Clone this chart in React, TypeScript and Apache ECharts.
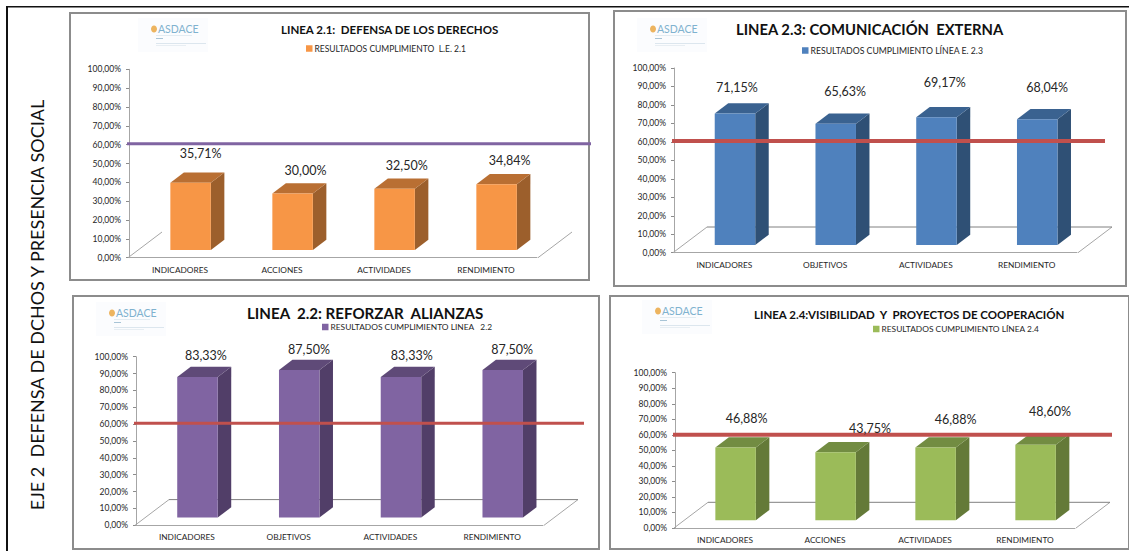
import React, { useEffect, useRef } from "react";
import * as echarts from "echarts";

const axisTicks = [0, 10, 20, 30, 40, 50, 60, 70, 80, 90, 100];
const targetValue = [60];

const categoriesA = ["INDICADORES", "ACCIONES", "ACTIVIDADES", "RENDIMIENTO"];
const categoriesB = ["INDICADORES", "OBJETIVOS", "ACTIVIDADES", "RENDIMIENTO"];
const categoriesC = ["INDICADORES", "OBJETIVOS", "ACTIVIDADES", "RENDIMIENTO"];
const categoriesD = ["INDICADORES", "ACCIONES", "ACTIVIDADES", "RENDIMIENTO"];

const valuesA = [35.71, 30.0, 32.5, 34.84];
const valuesB = [71.15, 65.63, 69.17, 68.04];
const valuesC = [83.33, 87.5, 83.33, 87.5];
const valuesD = [46.88, 43.75, 46.88, 48.6];

const titles = [
  "LINEA 2.1:  DEFENSA DE LOS DERECHOS",
  "LINEA 2.3: COMUNICACIÓN  EXTERNA",
  "LINEA  2.2: REFORZAR  ALIANZAS",
  "LINEA 2.4:VISIBILIDAD  Y  PROYECTOS DE COOPERACIÓN",
];
const legends = [
  "RESULTADOS CUMPLIMIENTO  L.E. 2.1",
  "RESULTADOS CUMPLIMIENTO LÍNEA E. 2.3",
  "RESULTADOS CUMPLIMIENTO LINEA   2.2",
  "RESULTADOS CUMPLIMIENTO LÍNEA 2.4",
];
const sideLabel = "EJE 2  DEFENSA DE DCHOS Y PRESENCIA SOCIAL";
const FONT = "Lato";

type Panel = {
  cats: string[]; vals: number[]; title: string; legend: string;
  frame: number[]; grid: number[]; front: string; side: string; top: string;
  lineColor: string; lineEnd: number; lineW: number; lineDy: number; floorBack: boolean;
  titleX: number; titleY: number; titleSize: number; legendX: number; legendY: number; legendSize: number;
  labelDx: number[]; labelY: number[]; logoX: number; logoY: number;
};

const panels: Panel[] = [
  {
    cats: categoriesA, vals: valuesA, title: titles[0], legend: legends[0],
    frame: [70, 13, 519, 267], grid: [129, 69.3, 408, 188.4],
    front: "#F79646", side: "#9C5F2C", top: "#B96F33",
    lineColor: "#8064A2", lineEnd: 591, lineW: 3, lineDy: -1, floorBack: false,
    titleX: 281, titleY: 23, titleSize: 11.5, legendX: 306, legendY: 44, legendSize: 8.5,
    labelDx: [20.7, 23.5, 22.8, 23.7], labelY: [153.3, 170, 165, 160], logoX: 148, logoY: 22,
  },
  {
    cats: categoriesB, vals: valuesB, title: titles[1], legend: legends[1],
    frame: [614, 11, 512, 275], grid: [674, 68, 403, 184.7],
    front: "#4F81BD", side: "#2F5075", top: "#3A6290",
    lineColor: "#C0504D", lineEnd: 1105, lineW: 4, lineDy: -1, floorBack: true,
    titleX: 736, titleY: 21, titleSize: 14.8, legendX: 802, legendY: 46, legendSize: 8.7,
    labelDx: [12.6, 20, 18.9, 20.5], labelY: [87, 91, 82, 87.3], logoX: 647, logoY: 22,
  },
  {
    cats: categoriesC, vals: valuesC, title: titles[2], legend: legends[2],
    frame: [73, 296, 526, 253], grid: [136, 356.7, 407, 168.6],
    front: "#8064A2", side: "#513E68", top: "#5F4A78",
    lineColor: "#C0504D", lineEnd: 584, lineW: 3, lineDy: -1, floorBack: true,
    titleX: 247, titleY: 305, titleSize: 15.1, legendX: 322, legendY: 323, legendSize: 8.4,
    labelDx: [19, 20.4, 21.4, 20], labelY: [355, 349, 355, 349], logoX: 106, logoY: 306,
  },
  {
    cats: categoriesD, vals: valuesD, title: titles[3], legend: legends[3],
    frame: [610, 296, 519, 253], grid: [675, 372.7, 400, 155.3],
    front: "#9BBB59", side: "#647A38", top: "#728C42",
    lineColor: "#C0504D", lineEnd: 1112, lineW: 4, lineDy: 0, floorBack: true,
    titleX: 754, titleY: 308, titleSize: 11.5, legendX: 873, legendY: 325, legendSize: 8.4,
    labelDx: [21.7, 45, 30.6, 25], labelY: [418.7, 428, 419, 411], logoX: 652, logoY: 304,
  },
];

const BAR_W = 40.5, DEPTH_X = 13.5, DEPTH_Y = 10.3, BASE_UP = 7.7, SHIFT = 10.6;

function bars3d(p: Panel) {
  return (params: any, api: any) => {
    const i = api.value(0);
    const v = api.value(1);
    const [cx, topY] = api.coord([i, v]);
    const [, zeroY] = api.coord([i, 0]);
    const l = cx + SHIFT - BAR_W / 2;
    const r = l + BAR_W;
    const t = topY - BASE_UP;
    const b = zeroY - BASE_UP;
    return {
      type: "group",
      children: [
        { type: "polygon", shape: { points: [[r, t], [r + DEPTH_X, t - DEPTH_Y], [r + DEPTH_X, b - DEPTH_Y], [r, b]] }, style: { fill: p.side } },
        { type: "polygon", shape: { points: [[l, t], [l + DEPTH_X, t - DEPTH_Y], [r + DEPTH_X, t - DEPTH_Y], [r, t]] }, style: { fill: p.top } },
        { type: "rect", shape: { x: l, y: t, width: BAR_W, height: b - t }, style: { fill: p.front } },
      ],
    };
  };
}

function valueLabels(p: Panel) {
  return (params: any, api: any) => {
    const i = api.value(0);
    const v = api.value(1);
    const [cx] = api.coord([i, v]);
    return {
      type: "text",
      style: {
        x: cx + p.labelDx[params.dataIndex],
        y: p.labelY[params.dataIndex],
        text: `${v.toFixed(2).replace(".", ",")}%`,
        fill: "#262626",
        font: `12.5px ${FONT}`,
        align: "center",
        verticalAlign: "middle",
      },
    };
  };
}

function floor(p: Panel) {
  return (params: any, api: any) => {
    const cs = params.coordSys;
    const [, y0] = api.coord([0, 0]);
    const x0 = cs.x - 1;
    const x1 = cs.x + cs.width + 1;
    const dx = 34, dy = 25.7;
    const lineStyle = { stroke: "#A6A6A6", lineWidth: 1, fill: "none" };
    const kids: any[] = [
      { type: "line", shape: { x1: x0, y1: y0, x2: x0 + dx, y2: y0 - dy }, style: lineStyle },
      { type: "line", shape: { x1, y1: y0, x2: x1 + dx, y2: y0 - dy }, style: lineStyle },
    ];
    if (p.floorBack) {
      kids.push({ type: "line", shape: { x1: x0 + dx, y1: y0 - dy, x2: x1 + dx, y2: y0 - dy }, style: { ...lineStyle, stroke: "#808080" } });
    }
    return { type: "group", children: kids };
  };
}

function target(p: Panel) {
  return (params: any, api: any) => {
    const [, y] = api.coord([0, api.value(0)]);
    return {
      type: "line",
      shape: { x1: params.coordSys.x - 2, y1: y + p.lineDy, x2: p.lineEnd, y2: y + p.lineDy },
      style: { stroke: p.lineColor, lineWidth: p.lineW },
    };
  };
}

function logo(x: number, y: number) {
  const blue = "#7FB2CF";
  return {
    type: "group", x, y, silent: true,
    children: [
      { type: "rect", shape: { x: -10, y: -4, width: 70, height: 34 }, style: { fill: "#FBFCFE" } },
      { type: "ellipse", shape: { cx: 6, cy: 7, rx: 3, ry: 3.5 }, style: { fill: "#EDB45F" } },
      { type: "text", style: { x: 10, y: 1, text: "ASDACE", fill: blue, font: `10.5px ${FONT}` } },
      { type: "rect", shape: { x: 8, y: 13, width: 36, height: 1 }, style: { fill: "#E3ECF2" } },
      { type: "rect", shape: { x: 8, y: 16, width: 7, height: 1 }, style: { fill: "#A8C4D6" } },
      { type: "rect", shape: { x: 8, y: 21, width: 50, height: 1 }, style: { fill: "#DCE6EE" } },
      { type: "rect", shape: { x: 8, y: 23, width: 30, height: 1 }, style: { fill: "#E8EEF3" } },
    ],
  };
}

function buildOption() {
  const pct = (v: number) => `${v.toFixed(2).replace(".", ",")}%`;
  const series: any[] = [];
  panels.forEach((p, k) => {
    series.push({ type: "custom", name: "floor" + k, xAxisIndex: k, yAxisIndex: k, renderItem: floor(p), data: [[0]], silent: true, clip: false, z: 1 });
    series.push({
      type: "custom", name: p.legend, xAxisIndex: k, yAxisIndex: k, renderItem: bars3d(p), clip: false, z: 2,
      encode: { x: 0, y: 1 }, itemStyle: { color: p.front },
      data: p.vals.map((v, i) => [i, v]),
    });
    series.push({ type: "custom", name: "meta" + k, xAxisIndex: k, yAxisIndex: k, renderItem: target(p), data: targetValue.map((v) => [v]), clip: false, z: 3, silent: true });
    series.push({
      type: "custom", name: "labels" + k, xAxisIndex: k, yAxisIndex: k, renderItem: valueLabels(p), clip: false, z: 4, silent: true,
      data: p.vals.map((v, i) => [i, v]),
    });
  });
  const frames = panels.map((p) => ({
    type: "rect", silent: true, z: -1,
    shape: { x: p.frame[0], y: p.frame[1], width: p.frame[2], height: p.frame[3] },
    style: { fill: "#FFFFFF", stroke: "#8C8C8C", lineWidth: 2 },
  }));
  return {
    animation: false,
    backgroundColor: "#FFFFFF",
    title: panels.map((p) => ({
      text: p.title, left: p.titleX, top: p.titleY, padding: 0,
      textStyle: { fontFamily: FONT, fontWeight: "bold", fontSize: p.titleSize, color: "#111111" },
    })),
    legend: panels.map((p) => ({
      data: [p.legend], left: p.legendX, top: p.legendY, padding: 0, itemWidth: 6.5, itemHeight: 6.5, itemGap: 2, selectedMode: false,
      icon: "rect",
      textStyle: { fontFamily: FONT, fontSize: p.legendSize, color: "#262626", padding: [0, 0, 0, -3] },
    })),
    grid: panels.map((p) => ({ left: p.grid[0], top: p.grid[1], width: p.grid[2], height: p.grid[3] })),
    xAxis: panels.map((p, k) => ({
      type: "category", gridIndex: k, data: p.cats,
      axisLine: { lineStyle: { color: "#A6A6A6", width: 1 } }, axisTick: { show: false },
      axisLabel: { fontFamily: FONT, fontSize: 8.3, color: "#262626", margin: 8, interval: 0 },
    })),
    yAxis: panels.map((p, k) => ({
      type: "value", gridIndex: k, min: axisTicks[0], max: axisTicks[axisTicks.length - 1], interval: 10,
      axisLine: { show: true, lineStyle: { color: "#A6A6A6", width: 1 } },
      axisTick: { show: true, length: 3, lineStyle: { color: "#8C8C8C" } },
      splitLine: { show: false },
      axisLabel: { fontFamily: FONT, fontSize: 8.5, color: "#262626", margin: 8, formatter: pct },
    })),
    series,
    graphic: [
      ...frames,
      ...panels.map((p) => logo(p.logoX, p.logoY)),
      { type: "rect", silent: true, shape: { x: 6, y: 6, width: 1123, height: 1.5 }, style: { fill: "#111111" } },
      { type: "rect", silent: true, shape: { x: 6, y: 6, width: 2, height: 545 }, style: { fill: "#111111" } },
      {
        type: "text", silent: true, x: 37, y: 305, rotation: Math.PI / 2,
        style: { text: sideLabel, fill: "#111111", font: `18px ${FONT}`, align: "center", verticalAlign: "middle" },
      },
    ],
  };
}

export default function App() {
  const ref = useRef<HTMLDivElement>(null);
  useEffect(() => {
    const chart = echarts.init(ref.current!, undefined, { renderer: "svg" });
    chart.setOption(buildOption() as any);
    return () => chart.dispose();
  }, []);
  return <div ref={ref} style={{ position: "fixed", left: 0, top: 0, width: 1129, height: 551 }} />;
}
